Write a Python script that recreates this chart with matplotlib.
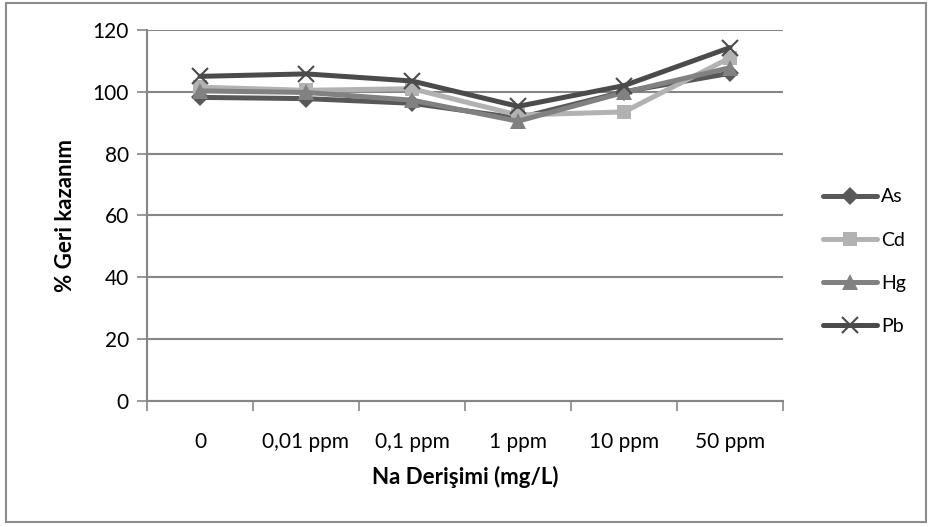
import matplotlib.pyplot as plt
from matplotlib.patches import Rectangle

plt.rcParams['font.family'] = ['Lato', 'DejaVu Sans']

categories = ['0', '0,01 ppm', '0,1 ppm', '1 ppm', '10 ppm', '50 ppm']
as_vals = [98.2, 97.8, 96.3, 91.5, 100.0, 106.0]
cd_vals = [101.5, 100.5, 101.0, 92.5, 93.5, 111.0]
hg_vals = [100.3, 99.8, 97.3, 90.5, 99.8, 107.8]
pb_vals = [105.0, 105.8, 103.5, 95.3, 102.0, 114.3]

series = [
    ('As', as_vals, '#585858', 'D', 9),
    ('Cd', cd_vals, '#b2b2b2', 's', 10),
    ('Hg', hg_vals, '#818181', '^', 11),
    ('Pb', pb_vals, '#4b4b4b', 'x', 12),
]

fig = plt.figure(figsize=(9.32, 5.27), dpi=100)
fig.patches.append(Rectangle((0.0065, 0.0095), 0.987, 0.984, transform=fig.transFigure,
                             fill=False, edgecolor='#8c8c8c', linewidth=1.5))
ax = fig.add_axes([0.1577, 0.2391, 0.6824, 0.704])

x = [i + 0.5 for i in range(len(categories))]
for name, vals, color, marker, ms in series:
    mew = 1.5 if marker == 'x' else 0
    ax.plot(x, vals, color=color, linewidth=3.6, marker=marker, markersize=ms,
            markeredgewidth=mew, markeredgecolor=color, label=name,
            solid_capstyle='round', zorder=3)

ax.set_xlim(0, len(categories))
ax.set_ylim(0, 120)
ax.set_yticks(range(0, 121, 20))
ax.set_xticks(range(len(categories) + 1))
ax.set_xticklabels([])
ax.set_xticks(x, minor=True)
ax.set_xticklabels(categories, minor=True)
ax.tick_params(axis='x', which='minor', length=0, pad=22, labelsize=15)
ax.tick_params(axis='x', which='major', length=7, width=1.2, color='#868686', direction='out')
ax.tick_params(axis='y', length=7, width=1.2, color='#868686', labelsize=15, pad=6)

ax.yaxis.grid(True, color='#868686', linewidth=1.5)
ax.set_axisbelow(True)
for side in ('top', 'right'):
    ax.spines[side].set_visible(False)
for side in ('left', 'bottom'):
    ax.spines[side].set_color('#868686')
    ax.spines[side].set_linewidth(1.5)

ax.set_ylabel('% Geri kazanım', fontsize=16, fontweight='bold', labelpad=12)
ax.set_xlabel('Na Derişimi (mg/L)', fontsize=16, fontweight='bold', labelpad=10)

ax.legend(loc='center left', bbox_to_anchor=(1.063, 0.375), frameon=False, fontsize=14,
          borderpad=0, borderaxespad=0, handlelength=2.8, handletextpad=0.2,
          labelspacing=1.35)

fig.savefig('out.png', dpi=100)
